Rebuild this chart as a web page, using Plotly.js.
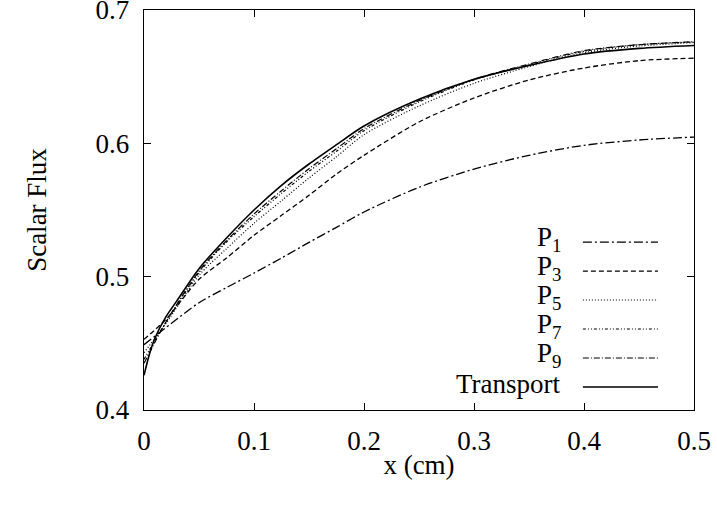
<!DOCTYPE html>
<html>
<head>
<meta charset="utf-8">
<script src="https://cdn.plot.ly/plotly-3.0.1.min.js"></script>
<style>html,body{margin:0;padding:0;background:#fff;}#chart{width:717px;height:505px;}</style>
</head>
<body>
<div id="chart"></div>
<script>
// Data
const xP1 = [0, 0.025, 0.05, 0.075, 0.1, 0.125, 0.15, 0.175, 0.2, 0.25, 0.3, 0.35, 0.4, 0.45, 0.5];
const yP1 = [0.449, 0.465, 0.4805, 0.4918, 0.5027, 0.514, 0.5257, 0.537, 0.5485, 0.567, 0.5807, 0.591, 0.5985, 0.6025, 0.6047];

const xP3 = [0, 0.02, 0.05, 0.075, 0.1, 0.125, 0.15, 0.175, 0.2, 0.25, 0.3, 0.35, 0.4, 0.45, 0.5];
const yP3 = [0.453, 0.468, 0.498, 0.514, 0.531, 0.546, 0.561, 0.577, 0.591, 0.616, 0.634, 0.6475, 0.6565, 0.662, 0.6639];

const xP5 = [0, 0.02, 0.05, 0.075, 0.1, 0.125, 0.15, 0.175, 0.2, 0.25, 0.3, 0.35, 0.4, 0.45, 0.5];
const yP5 = [0.443, 0.465, 0.501, 0.521, 0.540, 0.557, 0.574, 0.590, 0.6065, 0.628, 0.645, 0.6575, 0.668, 0.673, 0.6755];

const xP7 = [0, 0.02, 0.05, 0.075, 0.1, 0.125, 0.15, 0.175, 0.2, 0.25, 0.3, 0.35, 0.4, 0.45, 0.5];
const yP7 = [0.438, 0.466, 0.503, 0.526, 0.545, 0.5625, 0.579, 0.594, 0.6095, 0.631, 0.6475, 0.659, 0.669, 0.674, 0.676];

const xP9 = [0, 0.02, 0.05, 0.075, 0.1, 0.125, 0.15, 0.175, 0.2, 0.25, 0.3, 0.35, 0.4, 0.45, 0.5];
const yP9 = [0.435, 0.466, 0.504, 0.527, 0.547, 0.5645, 0.581, 0.596, 0.611, 0.632, 0.648, 0.6595, 0.6695, 0.674, 0.6762];

const xTr = [0, 0.005, 0.01, 0.02, 0.03, 0.05, 0.075, 0.1, 0.125, 0.15, 0.175, 0.2, 0.25, 0.3, 0.35, 0.4, 0.45, 0.5];
const yTr = [0.426, 0.442, 0.454, 0.470, 0.482, 0.506, 0.529, 0.550, 0.5685, 0.5845, 0.599, 0.613, 0.633, 0.648, 0.6584, 0.667, 0.6712, 0.6734];

const seriesNames = ['P<sub>1</sub>', 'P<sub>3</sub>', 'P<sub>5</sub>', 'P<sub>7</sub>', 'P<sub>9</sub>', 'Transport'];
const xTickVals = [0, 0.1, 0.2, 0.3, 0.4, 0.5];
const xTickText = ['0', '0.1', '0.2', '0.3', '0.4', '0.5'];
const yTickVals = [0.4, 0.5, 0.6, 0.7];
const yTickText = ['0.4', '0.5', '0.6', '0.7'];

const dashes = ['9px,3px,2px,3px', '5px,3px', '1px,2px', '3px,2px,1px,2px,1px,2px', '6px,2px,1px,2px', 'solid'];
const widths = [1.3, 1.3, 1.2, 1.2, 1.2, 1.6];
const xs = [xP1, xP3, xP5, xP7, xP9, xTr];
const ys = [yP1, yP3, yP5, yP7, yP9, yTr];

const traces = xs.map((x, i) => ({
  x: x, y: ys[i], type: 'scatter', mode: 'lines', name: seriesNames[i],
  line: {color: '#000', width: widths[i], dash: dashes[i], shape: 'spline', smoothing: 0.8},
  showlegend: false, hoverinfo: 'skip'
}));

const font = {family: '"Liberation Serif", "DejaVu Serif", serif', color: '#000'};
const FS = 27;

// custom legend (labels left, samples right, as in the reference)
const legY = [0.4195, 0.347, 0.275, 0.2025, 0.130, 0.0575];
const annotations = seriesNames.map((t, i) => ({
  xref: 'paper', yref: 'paper', x: 0.762, y: legY[i], xanchor: 'right', yanchor: 'middle', yshift: 3,
  text: t, showarrow: false, font: Object.assign({size: FS}, font)
}));
const shapes = seriesNames.map((t, i) => ({
  type: 'line', xref: 'paper', yref: 'paper', x0: 0.798, x1: 0.9345, y0: legY[i], y1: legY[i],
  line: {color: '#000', width: widths[i], dash: dashes[i]}
}));

const axisCommon = {
  showline: true, linecolor: '#000', linewidth: 1.3, mirror: 'ticks',
  ticks: 'inside', ticklen: 7, tickwidth: 1, tickcolor: '#000',
  showgrid: false, zeroline: false, tickfont: Object.assign({size: FS}, font),
  ticklabeloverflow: 'allow'
};

const layout = {
  width: 717, height: 505,
  margin: {l: 144, r: 23, t: 10, b: 95},
  paper_bgcolor: '#fff', plot_bgcolor: '#fff',
  font: font,
  xaxis: Object.assign({}, axisCommon, {
    range: [0, 0.5000001], tickvals: xTickVals, ticktext: xTickText, ticklabelstandoff: 6,
    title: {text: 'x (cm)', font: Object.assign({size: FS}, font), standoff: 0}
  }),
  yaxis: Object.assign({}, axisCommon, {
    range: [0.4, 0.7000001], tickvals: yTickVals, ticktext: yTickText, ticklabelstandoff: 8,
    title: {text: 'Scalar Flux', font: Object.assign({size: FS}, font), standoff: 41}
  }),
  annotations: annotations,
  shapes: shapes
};

Plotly.newPlot('chart', traces, layout, {staticPlot: true, displayModeBar: false});
</script>
</body>
</html>
